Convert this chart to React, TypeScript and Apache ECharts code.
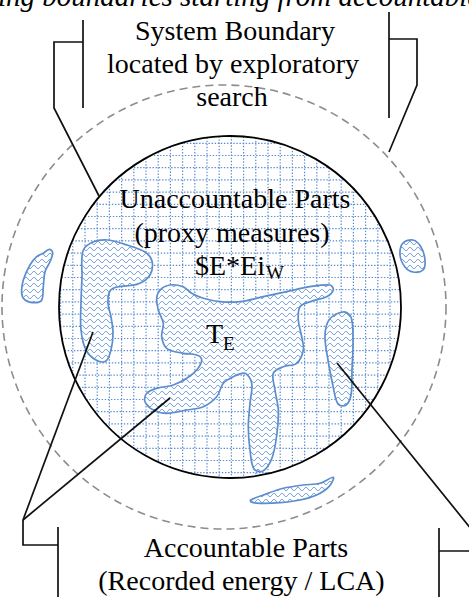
import React, { useEffect, useRef } from "react";
import * as echarts from "echarts";

// ---- texts ----
const topCaption = "ing boundaries starting from accountable parts";
const systemLabel = ["System Boundary", "located by exploratory", "search"];
const innerLabel = ["Unaccountable Parts", "(proxy measures)"];
const formulaMain = "$E*Ei";
const formulaSub = "W";
const tMain = "T";
const tSub = "E";
const accountLabel = ["Accountable Parts", "(Recorded energy / LCA)"];

// ---- shapes (diagram geometry) ----
const blobLeftInner = [
  [83, 251], [93, 242], [108, 240], [127, 245], [145, 252], [152, 261], [150, 275], [138, 284],
  [117, 287], [110, 291], [108, 303], [111, 317], [113, 333], [111, 350], [106, 361], [96, 360],
  [86, 350], [81, 330], [81, 303], [82, 277],
];
const blobCentral = [
  [160, 290], [170, 285], [183, 286.7], [191.7, 293.3], [203.3, 298.3], [220, 301.7], [240, 301.7],
  [263.3, 296.7], [286.7, 291.7], [310, 286.7], [330, 285], [333.3, 290], [326.7, 296.7], [310, 301.7],
  [300, 306.7], [298.3, 320], [301.7, 336.7], [303.3, 350], [296.7, 363.3], [283.3, 366.7], [273.3, 373.3],
  [275, 390], [278.3, 410], [277, 433], [272, 458], [263, 471], [254, 469], [250, 450], [248.3, 426.7],
  [250, 403.3], [251.7, 383.3], [245, 373.3], [233.3, 376.7], [223.3, 383.3], [216.7, 396.7], [203.3, 406.7],
  [186.7, 410], [166.7, 413.3], [153.3, 410], [145, 401.7], [146.7, 393.3], [156.7, 388.3], [173.3, 385],
  [186.7, 378.3], [196.7, 370], [201.7, 360], [196.7, 355], [183.3, 353.3], [166.7, 348.3], [161.7, 336.7],
  [163.3, 323.3], [158.3, 310], [156.7, 298.3],
];
const blobRightInner = [
  [343, 312], [351, 317], [353, 340], [352, 370], [351, 395], [346, 405], [338, 404], [333, 386],
  [328, 360], [325, 336], [329, 320],
];
const blobLeftOuter = [
  [49.3, 249.3], [52.7, 252.7], [50, 261.7], [45, 271.7], [43.3, 286.7], [41.7, 300], [35, 302.7],
  [25, 300], [21.7, 293.3], [23.3, 280], [30, 265], [36.7, 256.7], [43.3, 253.3],
];
const blobRightOuter = [
  [403, 243], [413, 240], [421, 247], [425, 260], [423, 270], [413, 272], [405, 267], [400, 255],
];
const blobLeaf = [
  [250.7, 500], [263.3, 495], [283.3, 488.3], [303.3, 485], [320, 483.3], [333.3, 477.3], [329, 486.7],
  [316.7, 495], [300, 500], [280, 502.7], [260, 503.3], [251, 502],
];

const W = 469;
const H = 597;
const SERIF = "Liberation Serif";
const BLUE = "#5b8dcf";

const waveSvg =
  '<svg xmlns="http://www.w3.org/2000/svg" width="8" height="6">' +
  '<rect width="8" height="6" fill="white"/>' +
  '<path d="M0 3 C1.3 0.9 2.7 0.9 4 3 C5.3 5.1 6.7 5.1 8 3" fill="none" stroke="' + BLUE + '" stroke-width="1"/>' +
  "</svg>";
const waveUrl = "data:image/svg+xml;charset=utf-8," + encodeURIComponent(waveSvg);

function buildElements(): any[] {
  const els: any[] = [];
  const cx = 230, cy = 307, r = 171;
  const ocx = 224, ocy = 307, orr = 222;

  // outer dashed boundary
  els.push({
    type: "circle",
    shape: { cx: ocx, cy: ocy, r: orr },
    style: { fill: "none", stroke: "#8c8c8c", lineWidth: 1.6, lineDash: [8, 5] },
  });
  // inner circle background
  els.push({ type: "circle", shape: { cx, cy, r }, style: { fill: "#fff", stroke: "none" } });

  // dotted grid inside circle
  const step = 12.2;
  const gx0 = 146, gy0 = 143.3;
  const gridStyle = { stroke: BLUE, lineWidth: 1.2, lineDash: [1.4, 1.7] };
  for (let k = -20; k <= 40; k++) {
    const x = gx0 + k * step;
    const dx = x - cx;
    if (Math.abs(dx) < r - 1) {
      const h = Math.sqrt(r * r - dx * dx);
      els.push({ type: "line", shape: { x1: x, y1: cy - h, x2: x, y2: cy + h }, style: gridStyle });
    }
    const y = gy0 + k * step;
    const dy = y - cy;
    if (Math.abs(dy) < r - 1) {
      const w = Math.sqrt(r * r - dy * dy);
      els.push({ type: "line", shape: { x1: cx - w, y1: y, x2: cx + w, y2: y }, style: gridStyle });
    }
  }
  els.push({
    type: "circle",
    shape: { cx, cy, r },
    style: { fill: "none", stroke: "#000", lineWidth: 1.8 },
  });

  const waveFill = { image: waveUrl, repeat: "repeat", imageWidth: 8, imageHeight: 6 };
  [blobLeftInner, blobCentral, blobRightInner, blobLeftOuter, blobRightOuter, blobLeaf].forEach((pts) => {
    els.push({
      type: "polygon",
      shape: { points: pts, smooth: 0.35 },
      style: { fill: waveFill, stroke: BLUE, lineWidth: 1.7 },
    });
  });

  // texts (y = middle; baseline ~ y + 9.5 for 28px)
  const txt = (text: string, x: number, y: number, size = 28, align = "center", italic = false) => ({
    type: "text",
    style: {
      text,
      x,
      y,
      fontFamily: SERIF,
      fontSize: size,
      fontStyle: italic ? "italic" : "normal",
      fill: "#000",
      align,
      verticalAlign: "middle",
    },
  });
  els.push(txt(topCaption, -2, -4, 29, "left", true));
  els.push(txt(systemLabel[0], 235, 30.5));
  els.push(txt(systemLabel[1], 233, 63.5));
  els.push(txt(systemLabel[2], 232, 96.5));
  els.push(txt(innerLabel[0], 235, 198.5));
  els.push(txt(innerLabel[1], 232, 232.5));
  els.push(txt(formulaMain, 265, 265.5, 28, "right"));
  els.push(txt(formulaSub, 266, 272, 19, "left"));
  els.push(txt(tMain, 223, 333.5, 28, "right"));
  els.push(txt(tSub, 223, 343, 19, "left"));
  els.push(txt(accountLabel[0], 246, 547.5));
  els.push(txt(accountLabel[1], 241.5, 580.5));

  // connector brackets
  const ln = { stroke: "#111", lineWidth: 1.7 };
  const poly = (pts: number[][]) => ({ type: "polyline", shape: { points: pts }, style: { ...ln, fill: "none" } });
  els.push(poly([[83, 20], [83, 108]]));
  els.push(poly([[83, 42], [54, 42], [54, 108], [99, 196]]));
  els.push(poly([[389, 12], [389, 118]]));
  els.push(poly([[389, 39], [417, 39], [417, 85], [389, 152]]));
  els.push(poly([[58, 527], [58, 610]]));
  els.push(poly([[58, 545], [23, 545], [23, 520]]));
  els.push(poly([[23, 520], [93, 332]]));
  els.push(poly([[23, 520], [170, 398]]));
  els.push(poly([[439, 528], [439, 610]]));
  els.push(poly([[439, 551], [476, 551], [476, 535], [337, 363]]));
  return els;
}

export default function App() {
  const ref = useRef<HTMLDivElement>(null);
  useEffect(() => {
    document.body.style.margin = "0";
    const chart = echarts.init(ref.current!, null, { renderer: "svg", width: W, height: H });
    chart.setOption({ animation: false, backgroundColor: "#fff", graphic: { elements: buildElements() } });
    return () => chart.dispose();
  }, []);
  return <div ref={ref} style={{ width: W, height: H }} />;
}
